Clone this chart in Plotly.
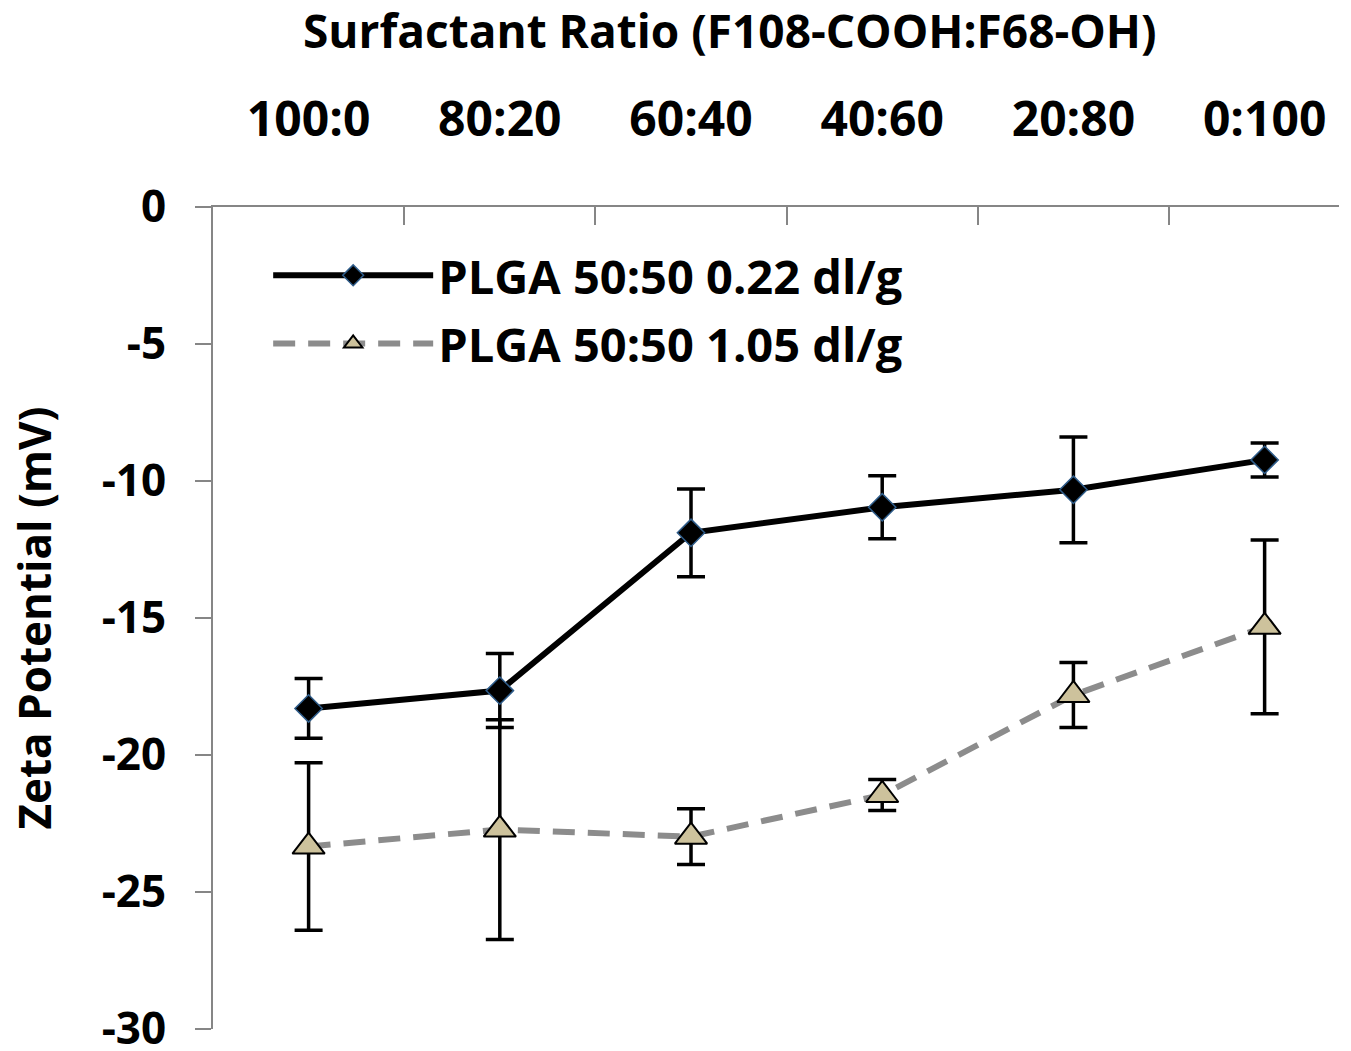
import plotly.graph_objects as go

categories = ["100:0", "80:20", "60:40", "40:60", "20:80", "0:100"]
series1_name = "PLGA 50:50 0.22 dl/g"
series1_values = [-18.3, -17.65, -11.89, -10.96, -10.32, -9.23]
series1_errors = [1.09, 1.35, 1.60, 1.15, 1.93, 0.62]
series2_name = "PLGA 50:50 1.05 dl/g"
series2_values = [-23.34, -22.72, -22.98, -21.46, -17.81, -15.32]
series2_errors = [3.06, 4.01, 1.02, 0.57, 1.19, 3.17]
y_ticks = [0, -5, -10, -15, -20, -25, -30]
y_tick_labels = ["0", "-5", "-10", "-15", "-20", "-25", "-30"]
x_title = "Surfactant Ratio (F108-COOH:F68-OH)"
y_title = "Zeta Potential (mV)"

FONT = "Open Sans"
AXIS_COLOR = "#868686"

fig = go.Figure()
fig.add_trace(go.Scatter(
    x=categories, y=series1_values, name=series1_name, mode="lines+markers",
    legendgroup="a",
    line=dict(color="black", width=6),
    marker=dict(symbol="diamond", size=21, color="black",
                line=dict(color="#2E5C8A", width=1.5)),
    error_y=dict(type="data", array=series1_errors, visible=True,
                 color="black", thickness=3.5, width=14),
))
fig.add_trace(go.Scatter(
    x=categories, y=series2_values, name=series2_name, mode="lines+markers",
    legendgroup="b",
    line=dict(color="#8C8C8C", width=6, dash="22px,13px"),
    marker=dict(symbol="triangle-up", size=28, color="#CDC29C",
                line=dict(color="black", width=2)),
    error_y=dict(type="data", array=series2_errors, visible=True,
                 color="black", thickness=3.5, width=14),
))

fig.add_annotation(
    text=x_title, xref="paper", yref="paper", x=0.459, y=1.215,
    xanchor="center", yanchor="middle", showarrow=False,
    font=dict(family=FONT, size=46, color="black", weight="bold"),
)

fig.update_layout(
    width=1351, height=1051,
    margin=dict(l=213, r=12, t=207, b=22, autoexpand=False),
    paper_bgcolor="white", plot_bgcolor="white",
    font=dict(family=FONT, color="black", size=44),
    showlegend=True,
    legend=dict(
        x=0.049, y=0.962, xanchor="left", yanchor="top",
        bgcolor="rgba(0,0,0,0)", itemwidth=160,
        traceorder="grouped", tracegroupgap=4,
        font=dict(family=FONT, size=47, color="black", weight="bold"),
    ),
    xaxis=dict(
        side="top", type="category", range=[-0.5, 5.389], automargin=False,
        showline=True, linecolor=AXIS_COLOR, linewidth=2,
        ticks="inside", tickson="boundaries", ticklen=18,
        tickcolor=AXIS_COLOR, tickwidth=2,
        showgrid=False, zeroline=False,
        tickfont=dict(family=FONT, size=48, color="black", weight="bold"),
        ticklabelstandoff=50,
    ),
    yaxis=dict(
        range=[-30, 0], tickvals=y_ticks, ticktext=y_tick_labels,
        ticklabeloverflow="allow", automargin=False,
        showline=True, linecolor=AXIS_COLOR, linewidth=2,
        ticks="outside", ticklen=16, tickcolor=AXIS_COLOR, tickwidth=2,
        showgrid=False, zeroline=False,
        tickfont=dict(family=FONT, size=44, color="black", weight="bold"),
        ticklabelstandoff=20,
        title=dict(text=y_title, standoff=36,
                   font=dict(family=FONT, size=44, color="black", weight="bold")),
    ),
)

fig.write_html("out.html")
